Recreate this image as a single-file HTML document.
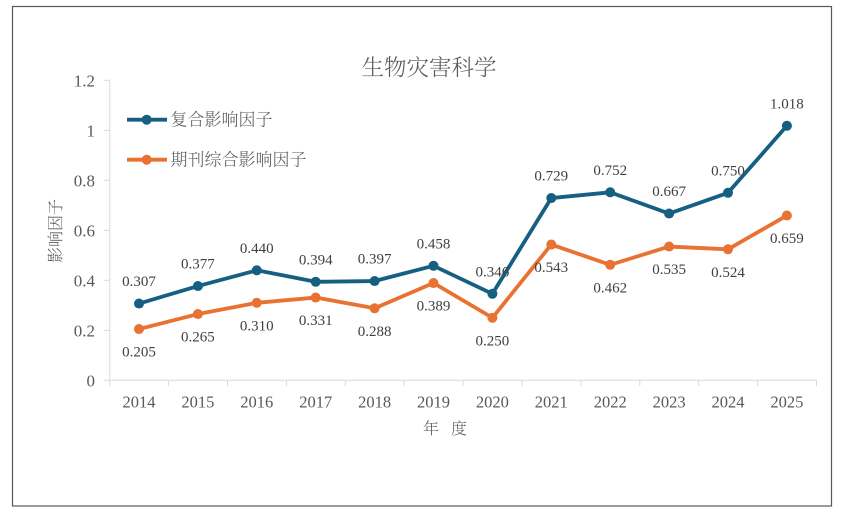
<!DOCTYPE html>
<html><head><meta charset="utf-8"><style>
html,body{margin:0;padding:0;background:#fff;}
svg{display:block;}
text{font-family:"Liberation Serif","Noto Serif CJK SC","Noto Sans CJK SC",serif;}
</style></head><body>
<svg width="842" height="513" viewBox="0 0 842 513" xmlns="http://www.w3.org/2000/svg">
<rect x="0" y="0" width="842" height="513" fill="#fff"/>
<rect x="12.5" y="6.5" width="819" height="499.5" fill="#fff" stroke="#595959" stroke-width="1.2"/>
<text x="429" y="75.5" font-size="22.5" fill="#595959" text-anchor="middle" font-family="'Noto Sans CJK SC',sans-serif" font-weight="300">生物灾害科学</text>
<!-- axes -->
<g stroke="#d9d9d9" stroke-width="1" fill="none">
<line x1="109.8" y1="80.3" x2="109.8" y2="380.3"/>
<line x1="104" y1="80.3" x2="109.8" y2="80.3"/>
<line x1="104" y1="130.3" x2="109.8" y2="130.3"/>
<line x1="104" y1="180.3" x2="109.8" y2="180.3"/>
<line x1="104" y1="230.3" x2="109.8" y2="230.3"/>
<line x1="104" y1="280.3" x2="109.8" y2="280.3"/>
<line x1="104" y1="330.3" x2="109.8" y2="330.3"/>
<line x1="104" y1="380.3" x2="817" y2="380.3"/>
<line x1="109.8" y1="380.3" x2="109.8" y2="386"/>
<line x1="168.6" y1="380.3" x2="168.6" y2="386"/>
<line x1="227.5" y1="380.3" x2="227.5" y2="386"/>
<line x1="286.4" y1="380.3" x2="286.4" y2="386"/>
<line x1="345.3" y1="380.3" x2="345.3" y2="386"/>
<line x1="404.2" y1="380.3" x2="404.2" y2="386"/>
<line x1="463.1" y1="380.3" x2="463.1" y2="386"/>
<line x1="522" y1="380.3" x2="522" y2="386"/>
<line x1="580.9" y1="380.3" x2="580.9" y2="386"/>
<line x1="639.8" y1="380.3" x2="639.8" y2="386"/>
<line x1="698.7" y1="380.3" x2="698.7" y2="386"/>
<line x1="757.6" y1="380.3" x2="757.6" y2="386"/>
<line x1="816.5" y1="380.3" x2="816.5" y2="386"/>
</g>
<g font-size="17" fill="#595959" text-anchor="end">
<text x="95" y="86.3">1.2</text>
<text x="95" y="136.3">1</text>
<text x="95" y="186.3">0.8</text>
<text x="95" y="236.3">0.6</text>
<text x="95" y="286.3">0.4</text>
<text x="95" y="336.3">0.2</text>
<text x="95" y="386.3">0</text>
</g>
<g font-size="16.5" fill="#595959" text-anchor="middle">
<text x="139" y="407.5">2014</text>
<text x="197.9" y="407.5">2015</text>
<text x="256.8" y="407.5">2016</text>
<text x="315.7" y="407.5">2017</text>
<text x="374.6" y="407.5">2018</text>
<text x="433.5" y="407.5">2019</text>
<text x="492.4" y="407.5">2020</text>
<text x="551.3" y="407.5">2021</text>
<text x="610.2" y="407.5">2022</text>
<text x="669.1" y="407.5">2023</text>
<text x="728" y="407.5">2024</text>
<text x="786.9" y="407.5">2025</text>
</g>
<g font-size="16" fill="#595959" font-family="'Noto Sans CJK SC',sans-serif" font-weight="300">
<text x="423" y="434">年</text>
<text x="451" y="434">度</text>
</g>
<text transform="translate(61,231) rotate(-90)" font-size="16" fill="#595959" text-anchor="middle" font-family="'Noto Sans CJK SC',sans-serif" font-weight="300">影响因子</text>
<!-- series -->
<polyline fill="none" stroke="#E97132" stroke-width="3.8" stroke-linejoin="round" points="139,329.05 197.9,314.05 256.8,302.8 315.7,297.55 374.6,308.3 433.5,283.05 492.4,317.8 551.3,244.55 610.2,264.8 669.1,246.55 728,249.3 786.9,215.55"/>
<g fill="#E97132">
<circle cx="139" cy="329.05" r="5"/><circle cx="197.9" cy="314.05" r="5"/><circle cx="256.8" cy="302.8" r="5"/><circle cx="315.7" cy="297.55" r="5"/><circle cx="374.6" cy="308.3" r="5"/><circle cx="433.5" cy="283.05" r="5"/><circle cx="492.4" cy="317.8" r="5"/><circle cx="551.3" cy="244.55" r="5"/><circle cx="610.2" cy="264.8" r="5"/><circle cx="669.1" cy="246.55" r="5"/><circle cx="728" cy="249.3" r="5"/><circle cx="786.9" cy="215.55" r="5"/>
</g>
<polyline fill="none" stroke="#156082" stroke-width="3.8" stroke-linejoin="round" points="139,303.55 197.9,286.05 256.8,270.3 315.7,281.8 374.6,281.05 433.5,265.8 492.4,293.8 551.3,198.05 610.2,192.3 669.1,213.55 728,192.8 786.9,125.8"/>
<g fill="#156082">
<circle cx="139" cy="303.55" r="5"/><circle cx="197.9" cy="286.05" r="5"/><circle cx="256.8" cy="270.3" r="5"/><circle cx="315.7" cy="281.8" r="5"/><circle cx="374.6" cy="281.05" r="5"/><circle cx="433.5" cy="265.8" r="5"/><circle cx="492.4" cy="293.8" r="5"/><circle cx="551.3" cy="198.05" r="5"/><circle cx="610.2" cy="192.3" r="5"/><circle cx="669.1" cy="213.55" r="5"/><circle cx="728" cy="192.8" r="5"/><circle cx="786.9" cy="125.8" r="5"/>
</g>
<!-- labels -->
<g font-size="15" fill="#404040" text-anchor="middle">
<text x="139" y="286">0.307</text>
<text x="197.9" y="268.5">0.377</text>
<text x="256.8" y="252.8">0.440</text>
<text x="315.7" y="264.3">0.394</text>
<text x="374.6" y="263.5">0.397</text>
<text x="433.5" y="248.3">0.458</text>
<text x="492.4" y="276.3">0.346</text>
<text x="551.3" y="180.5">0.729</text>
<text x="610.2" y="174.8">0.752</text>
<text x="669.1" y="196">0.667</text>
<text x="728" y="175.3">0.750</text>
<text x="786.9" y="108.3">1.018</text>

<text x="139" y="356.5">0.205</text>
<text x="197.9" y="341.5">0.265</text>
<text x="256.8" y="330.3">0.310</text>
<text x="315.7" y="325">0.331</text>
<text x="374.6" y="335.8">0.288</text>
<text x="433.5" y="310.5">0.389</text>
<text x="492.4" y="345.3">0.250</text>
<text x="551.3" y="272">0.543</text>
<text x="610.2" y="292.3">0.462</text>
<text x="669.1" y="274">0.535</text>
<text x="728" y="276.8">0.524</text>
<text x="786.9" y="243">0.659</text>
</g>
<!-- legend -->
<line x1="127" y1="119.7" x2="167" y2="119.7" stroke="#156082" stroke-width="3.8"/>
<circle cx="146.7" cy="119.7" r="5" fill="#156082"/>
<text x="170.5" y="125.7" font-size="17" fill="#595959" font-family="'Noto Sans CJK SC',sans-serif" font-weight="300">复合影响因子</text>
<line x1="127" y1="159.7" x2="167" y2="159.7" stroke="#E97132" stroke-width="3.8"/>
<circle cx="146.7" cy="159.7" r="5" fill="#E97132"/>
<text x="170.5" y="165.7" font-size="17" fill="#595959" font-family="'Noto Sans CJK SC',sans-serif" font-weight="300">期刊综合影响因子</text>
</svg>
</body></html>
